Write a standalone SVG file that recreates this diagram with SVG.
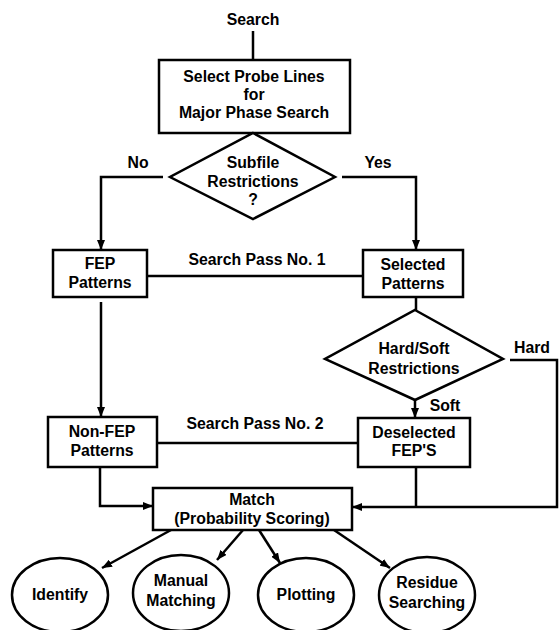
<svg xmlns="http://www.w3.org/2000/svg" width="559" height="630" viewBox="0 0 559 630">
<style>
text{font-family:"Liberation Sans",Arial,sans-serif;font-weight:bold;font-size:15.8px;fill:#000;text-anchor:middle}
.s{fill:#fff;stroke:#000;stroke-width:2.5}
.c{fill:none;stroke:#000;stroke-width:2.5}
</style>
<defs>
<marker id="a" markerUnits="userSpaceOnUse" markerWidth="10" markerHeight="8" refX="10" refY="4" orient="auto">
<path d="M0,0 L10,4 L0,8 z" fill="#000"/>
</marker>
</defs>
<rect width="559" height="630" fill="#fff"/>
<g id="connectors">
<path class="c" d="M253,31 V60"/>
<path class="c" d="M163,177 H101 V250" marker-end="url(#a)"/>
<path class="c" d="M342,177 H416 V250" marker-end="url(#a)"/>
<path class="c" d="M147,276 H363"/>
<path class="c" d="M101,302 V417" marker-end="url(#a)"/>
<path class="c" d="M416,297 V310"/>
<path class="c" d="M510,360 H557 V507 H352" marker-end="url(#a)"/>
<path class="c" d="M415,400 V418" marker-end="url(#a)"/>
<path class="c" d="M157,443 H358"/>
<path class="c" d="M416,467 V507"/>
<path class="c" d="M100,467 V506 H153" marker-end="url(#a)"/>
<path class="c" d="M171,530 L102,568" marker-end="url(#a)"/>
<path class="c" d="M243,530 L217,560" marker-end="url(#a)"/>
<path class="c" d="M259,530 L280,563" marker-end="url(#a)"/>
<path class="c" d="M334,530 L390,568" marker-end="url(#a)"/>
<text x="138" y="168">No</text>
<text x="378" y="168">Yes</text>
<text x="257" y="265">Search Pass No. 1</text>
<text x="255" y="429">Search Pass No. 2</text>
<text x="532" y="353">Hard</text>
<text x="445" y="411">Soft</text>
</g>
<g id="start"><text x="253" y="25">Search</text></g>
<g id="probe">
<rect class="s" x="159" y="60" width="191" height="73"/>
<text x="254" y="82">Select Probe Lines</text>
<text x="254" y="100">for</text>
<text x="254" y="118">Major Phase Search</text>
</g>
<g id="subfile">
<polygon class="s" points="253,133 335,177 253,219 170,177"/>
<text x="253" y="168">Subfile</text>
<text x="253" y="187">Restrictions</text>
<text x="253" y="205">?</text>
</g>
<g id="fep">
<rect class="s" x="53" y="250" width="94" height="47"/>
<text x="100" y="269">FEP</text>
<text x="100" y="288">Patterns</text>
</g>
<g id="selected">
<rect class="s" x="363" y="250" width="100" height="47"/>
<text x="413" y="270">Selected</text>
<text x="413" y="289">Patterns</text>
</g>
<g id="hardsoft">
<polygon class="s" points="415,310 503,359 415,400 325,359"/>
<text x="414" y="354">Hard/Soft</text>
<text x="414" y="374">Restrictions</text>
</g>
<g id="nonfep">
<rect class="s" x="48" y="417" width="109" height="50"/>
<text x="102" y="437">Non-FEP</text>
<text x="102" y="456">Patterns</text>
</g>
<g id="deselected">
<rect class="s" x="358" y="418" width="112" height="49"/>
<text x="414" y="438">Deselected</text>
<text x="414" y="456">FEP'S</text>
</g>
<g id="match">
<rect class="s" x="153" y="488" width="199" height="42"/>
<text x="252" y="505">Match</text>
<text x="252" y="524">(Probability Scoring)</text>
</g>
<g id="identify">
<ellipse class="s" cx="60" cy="595" rx="48" ry="37"/>
<text x="60" y="600">Identify</text>
</g>
<g id="manual">
<ellipse class="s" cx="181" cy="593" rx="48" ry="38"/>
<text x="181" y="586">Manual</text>
<text x="181" y="606">Matching</text>
</g>
<g id="plotting">
<ellipse class="s" cx="306" cy="595" rx="48" ry="37"/>
<text x="306" y="600">Plotting</text>
</g>
<g id="residue">
<ellipse class="s" cx="427" cy="595" rx="48" ry="38"/>
<text x="427" y="588">Residue</text>
<text x="427" y="608">Searching</text>
</g>
</svg>
